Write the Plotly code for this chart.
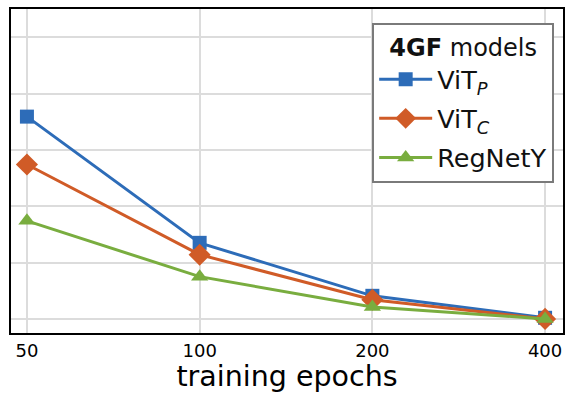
import plotly.graph_objects as go

# Training epochs (log-spaced x axis)
epochs = [50, 100, 200, 400]

# Per-model values at each epoch budget
vit_p = [3.59, 1.35, 0.41, 0.02]
vit_c = [2.74, 1.14, 0.34, 0.0]
regnety = [1.74, 0.75, 0.21, 0.0]

series_names = ["ViT<sub><i>P</i></sub>", "ViT<sub><i>C</i></sub>", "RegNetY"]
series_values = [vit_p, vit_c, regnety]
colors = ["#2d6cb8", "#d05b27", "#79ad3f"]
symbols = ["square", "diamond", "triangle-up"]
marker_sizes = [14, 17, 15]

fig = go.Figure()
for i, (name, vals) in enumerate(zip(series_names, series_values)):
    fig.add_trace(go.Scatter(
        x=epochs, y=vals, name=name, mode="lines+markers",
        legendgroup=f"g{i}",
        line=dict(color=colors[i], width=3),
        marker=dict(symbol=symbols[i], size=marker_sizes[i], color=colors[i],
                    line=dict(width=0)),
    ))

font_family = "DejaVu Sans"
fig.update_layout(
    width=568, height=393,
    margin=dict(l=11, r=3, t=9, b=60),
    paper_bgcolor="white", plot_bgcolor="white",
    font=dict(family=font_family, color="black"),
    showlegend=True,
    legend=dict(
        x=0.984, y=0.957, xanchor="right", yanchor="top",
        bgcolor="white", bordercolor="#7a7a7a", borderwidth=2,
        font=dict(size=25.5, family=font_family, color="#111111"),
        title=dict(text="<b>4GF</b> models", font=dict(size=24, family=font_family),
                   side="top center"),
        tracegroupgap=3, traceorder="grouped",
        itemwidth=53,
    ),
    xaxis=dict(
        type="log", range=[1.6712, 2.6333],
        tickvals=epochs, ticktext=[str(e) for e in epochs],
        tickfont=dict(size=18, family=font_family),
        showgrid=True, gridcolor="#dcdcdc", gridwidth=1.5,
        showline=True, linecolor="black", linewidth=2, mirror=True,
        ticks="", zeroline=False,
        title=dict(text="training epochs", font=dict(size=28.5, family=font_family),
                   standoff=2),
    ),
    yaxis=dict(
        range=[-0.25, 5.5],
        tickvals=[0, 1, 2, 3, 4, 5], showticklabels=False,
        showgrid=True, gridcolor="#dcdcdc", gridwidth=1.5,
        showline=True, linecolor="black", linewidth=2, mirror=True,
        ticks="", zeroline=False,
    ),
)

fig.write_html("out.html")
